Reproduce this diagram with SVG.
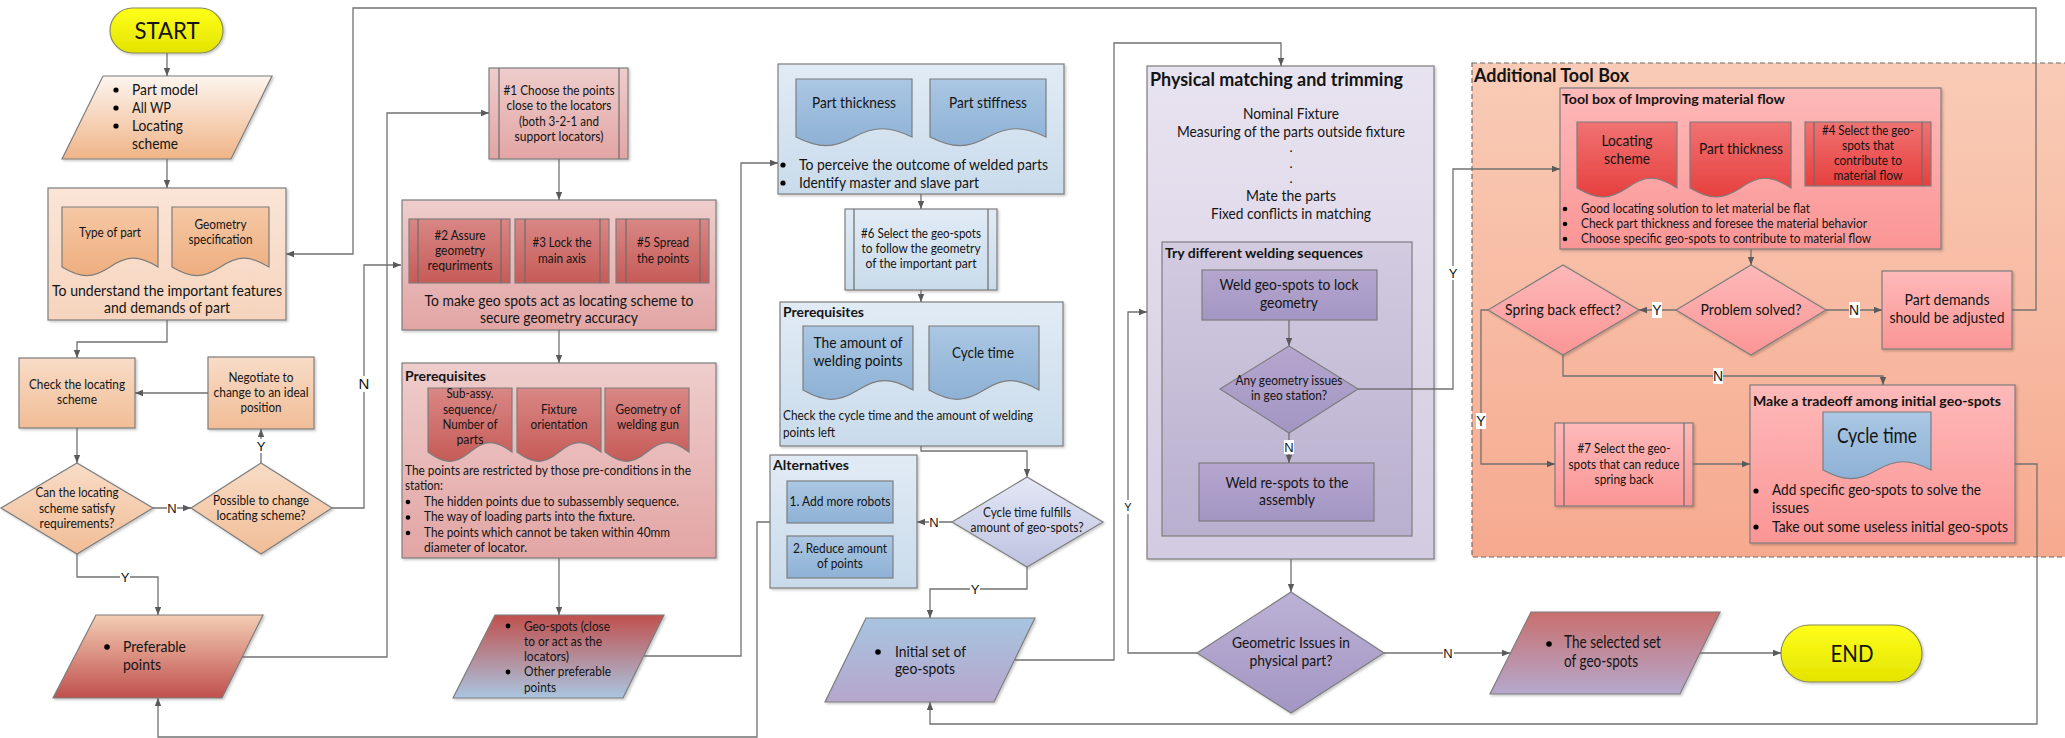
<svg xmlns="http://www.w3.org/2000/svg" width="2065" height="738" viewBox="0 0 2065 738">
<defs>
<style>
text{font-family:Lato,'Liberation Sans',sans-serif;fill:#141414}
.c{text-anchor:middle}
.b{font-weight:bold}
.f12{font-size:12px}.f13{font-size:13px}.f14{font-size:14px}.f15{font-size:15px}.f16{font-size:16px}.f17{font-size:17px}.f19{font-size:19px}.f21{font-size:21px}.f24{font-size:24px}
.sh{stroke:#7d7d7d;stroke-width:1.2}
.bar{stroke:#6d6d6d;stroke-width:1.2;fill:none}
.cn{fill:none;stroke:#717171;stroke-width:1.3}
.ar{marker-end:url(#ah)}
.lb{font-size:13px;text-anchor:middle;font-family:'Liberation Sans',sans-serif}
.lbg{fill:#fff}
</style>
<marker id="ah" viewBox="0 0 10 10" refX="10" refY="5" markerWidth="8" markerHeight="8" markerUnits="userSpaceOnUse" orient="auto"><path d="M0,1L10,5L0,9z" fill="#5a5a5a"/></marker>
<filter id="ds" x="-5%" y="-5%" width="112%" height="115%"><feDropShadow dx="1.5" dy="1.5" stdDeviation="1" flood-color="#000" flood-opacity="0.22"/></filter>
<linearGradient id="gY" x1="0" y1="0" x2="0" y2="1"><stop offset="0" stop-color="#ffff1a"/><stop offset="1" stop-color="#e3e300"/></linearGradient>
<linearGradient id="gP1" x1="0" y1="0" x2="0" y2="1"><stop offset="0" stop-color="#fdf5ef"/><stop offset="1" stop-color="#efb487"/></linearGradient>
<linearGradient id="gPeachBox" x1="0" y1="0" x2="0" y2="1"><stop offset="0" stop-color="#fae5d7"/><stop offset="1" stop-color="#f6d4bd"/></linearGradient>
<linearGradient id="gPeachDoc" x1="0" y1="0" x2="0" y2="1"><stop offset="0" stop-color="#f5c8a5"/><stop offset="1" stop-color="#eeae7f"/></linearGradient>
<linearGradient id="gPeach" x1="0" y1="0" x2="0" y2="1"><stop offset="0" stop-color="#f8dcc7"/><stop offset="1" stop-color="#f1bd96"/></linearGradient>
<linearGradient id="gPref" x1="0" y1="0" x2="0" y2="1"><stop offset="0" stop-color="#f3cdb3"/><stop offset="1" stop-color="#c0504d"/></linearGradient>
<linearGradient id="gPink" x1="0" y1="0" x2="0" y2="1"><stop offset="0" stop-color="#eecdcc"/><stop offset="1" stop-color="#e2a5a4"/></linearGradient>
<linearGradient id="gRedSub" x1="0" y1="0" x2="0" y2="1"><stop offset="0" stop-color="#d98785"/><stop offset="1" stop-color="#c65b57"/></linearGradient>
<linearGradient id="gGeo" x1="0" y1="0" x2="0" y2="1"><stop offset="0" stop-color="#c0504d"/><stop offset="1" stop-color="#a9c5e1"/></linearGradient>
<linearGradient id="gBlueBox" x1="0" y1="0" x2="0" y2="1"><stop offset="0" stop-color="#e1ebf5"/><stop offset="1" stop-color="#c9dbeb"/></linearGradient>
<linearGradient id="gBlueDoc" x1="0" y1="0" x2="0" y2="1"><stop offset="0" stop-color="#abc7e3"/><stop offset="1" stop-color="#8db1d5"/></linearGradient>
<linearGradient id="gLav" x1="0" y1="0" x2="0" y2="1"><stop offset="0" stop-color="#e3e7f5"/><stop offset="1" stop-color="#bfc2e0"/></linearGradient>
<linearGradient id="gInit" x1="0" y1="0" x2="0" y2="1"><stop offset="0" stop-color="#a7c4e0"/><stop offset="1" stop-color="#b6a6cc"/></linearGradient>
<linearGradient id="gPurOut" x1="0" y1="0" x2="0" y2="1"><stop offset="0" stop-color="#e8e3f0"/><stop offset="1" stop-color="#d3cbe1"/></linearGradient>
<linearGradient id="gPurIn" x1="0" y1="0" x2="0" y2="1"><stop offset="0" stop-color="#d3cbe0"/><stop offset="1" stop-color="#b9afcf"/></linearGradient>
<linearGradient id="gPurNode" x1="0" y1="0" x2="0" y2="1"><stop offset="0" stop-color="#b4a6ce"/><stop offset="1" stop-color="#a396c3"/></linearGradient>
<linearGradient id="gPurDia" x1="0" y1="0" x2="0" y2="1"><stop offset="0" stop-color="#bcb1d5"/><stop offset="1" stop-color="#a396c4"/></linearGradient>
<linearGradient id="gSal" x1="0" y1="0" x2="0" y2="1"><stop offset="0" stop-color="#f9cbb6"/><stop offset="1" stop-color="#f6aa8f"/></linearGradient>
<linearGradient id="gTool" x1="0" y1="0" x2="0" y2="1"><stop offset="0" stop-color="#feb9b9"/><stop offset="1" stop-color="#fb9595"/></linearGradient>
<linearGradient id="gRedDoc" x1="0" y1="0" x2="0" y2="1"><stop offset="0" stop-color="#f07272"/><stop offset="1" stop-color="#e6403e"/></linearGradient>
<linearGradient id="gSel" x1="0" y1="0" x2="0" y2="1"><stop offset="0" stop-color="#c96f6d"/><stop offset="1" stop-color="#b5a8cd"/></linearGradient>
</defs>

<rect width="2065" height="738" fill="#fff"/>

<!-- background container: additional tool box -->
<g id="additional-tool-box">
<rect x="1472" y="63" width="600" height="494" fill="url(#gSal)" stroke="#6d6d6d" stroke-width="1.2" stroke-dasharray="5,3"/>
<text x="1474" y="82" class="b f19" textLength="155" lengthAdjust="spacingAndGlyphs">Additional Tool Box</text>
</g>

<g id="start">
<rect x="110" y="8" width="113" height="45" rx="22.5" fill="url(#gY)" stroke="#8a8a5c" stroke-width="1.2" filter="url(#ds)"/>
<text x="167" y="39" class="c f24" textLength="65" lengthAdjust="spacingAndGlyphs">START</text>
</g>

<g id="inputs">
<polygon points="103,76 272,76 231,159 62,159" fill="url(#gP1)" class="sh" filter="url(#ds)"/>
<circle cx="116" cy="90" r="2.6" fill="#000"/><circle cx="116" cy="108" r="2.6" fill="#000"/><circle cx="116" cy="126" r="2.6" fill="#000"/>
<text x="132" y="95" class="f15" textLength="66" lengthAdjust="spacingAndGlyphs">Part model</text>
<text x="132" y="113" class="f15" textLength="39" lengthAdjust="spacingAndGlyphs">All WP</text>
<text x="132" y="131" class="f15" textLength="51" lengthAdjust="spacingAndGlyphs">Locating</text>
<text x="132" y="149" class="f15" textLength="46" lengthAdjust="spacingAndGlyphs">scheme</text>
</g>

<g id="understand-part">
<rect x="48" y="188" width="238" height="132" fill="url(#gPeachBox)" class="sh" filter="url(#ds)"/>
<path d="M62,207H158V267C138.8,255.2 127.3,255.2 110,267C92.7,278.5 81.2,278.5 62,267Z" fill="url(#gPeachDoc)" class="sh"/>
<path d="M172,207H269V267C249.6,255.2 238,255.2 220.5,267C203,278.5 191.4,278.5 172,267Z" fill="url(#gPeachDoc)" class="sh"/>
<text x="110" y="237" class="c f13" textLength="62" lengthAdjust="spacingAndGlyphs">Type of part</text>
<text x="220.5" y="229" class="c f13" textLength="52" lengthAdjust="spacingAndGlyphs">Geometry</text>
<text x="220.5" y="244" class="c f13" textLength="64" lengthAdjust="spacingAndGlyphs">specification</text>
<text x="167" y="296" class="c f16" textLength="230" lengthAdjust="spacingAndGlyphs">To understand the important features</text>
<text x="167" y="313" class="c f16" textLength="126" lengthAdjust="spacingAndGlyphs">and demands of part</text>
</g>

<g id="check-locating">
<rect x="19" y="358" width="116" height="70" fill="url(#gPeach)" class="sh" filter="url(#ds)"/>
<text x="77" y="389" class="c f13" textLength="96" lengthAdjust="spacingAndGlyphs">Check the locating</text>
<text x="77" y="404" class="c f13" textLength="40" lengthAdjust="spacingAndGlyphs">scheme</text>
</g>

<g id="negotiate">
<rect x="208" y="357" width="106" height="72" fill="url(#gPeach)" class="sh" filter="url(#ds)"/>
<text x="261" y="382" class="c f13" textLength="65" lengthAdjust="spacingAndGlyphs">Negotiate to</text>
<text x="261" y="397" class="c f13" textLength="95" lengthAdjust="spacingAndGlyphs">change to an ideal</text>
<text x="261" y="412" class="c f13" textLength="41" lengthAdjust="spacingAndGlyphs">position</text>
</g>

<g id="can-satisfy">
<polygon points="77,463 153,508 77,554 1,508" fill="url(#gPeach)" class="sh" filter="url(#ds)"/>
<text x="77" y="497" class="c f13" textLength="83" lengthAdjust="spacingAndGlyphs">Can the locating</text>
<text x="77" y="513" class="c f13" textLength="76" lengthAdjust="spacingAndGlyphs">scheme satisfy</text>
<text x="77" y="528" class="c f13" textLength="75" lengthAdjust="spacingAndGlyphs">requirements?</text>
</g>

<g id="possible-change">
<polygon points="261,463 332,508 261,554 191,508" fill="url(#gPeach)" class="sh" filter="url(#ds)"/>
<text x="261" y="505" class="c f13" textLength="96" lengthAdjust="spacingAndGlyphs">Possible to change</text>
<text x="261" y="520" class="c f13" textLength="89" lengthAdjust="spacingAndGlyphs">locating scheme?</text>
</g>

<g id="preferable-points">
<polygon points="96,615 263,615 222,698 53,698" fill="url(#gPref)" class="sh" filter="url(#ds)"/>
<circle cx="107" cy="647" r="2.8" fill="#000"/>
<text x="123" y="652" class="f16" textLength="63" lengthAdjust="spacingAndGlyphs">Preferable</text>
<text x="123" y="670" class="f16" textLength="38" lengthAdjust="spacingAndGlyphs">points</text>
</g>

<g id="step1">
<rect x="489" y="68" width="139" height="91" fill="url(#gPink)" class="sh" filter="url(#ds)"/>
<path d="M499,68V159M619,68V159" class="bar"/>
<text x="559" y="95" class="c f13" textLength="111" lengthAdjust="spacingAndGlyphs">#1 Choose the points</text>
<text x="559" y="110" class="c f13" textLength="105" lengthAdjust="spacingAndGlyphs">close to the locators</text>
<text x="559" y="126" class="c f13" textLength="80" lengthAdjust="spacingAndGlyphs">(both 3-2-1 and</text>
<text x="559" y="141" class="c f13" textLength="89" lengthAdjust="spacingAndGlyphs">support locators)</text>
</g>

<g id="locating-role">
<rect x="402" y="200" width="314" height="130" fill="url(#gPink)" class="sh" filter="url(#ds)"/>
<rect x="409" y="219" width="101" height="64" fill="url(#gRedSub)" class="sh"/>
<path d="M418,219V283M501,219V283" class="bar"/>
<rect x="515" y="219" width="94" height="64" fill="url(#gRedSub)" class="sh"/>
<path d="M525,219V283M600,219V283" class="bar"/>
<rect x="616" y="219" width="93" height="64" fill="url(#gRedSub)" class="sh"/>
<path d="M626,219V283M700,219V283" class="bar"/>
<text x="460" y="240" class="c f13" textLength="51" lengthAdjust="spacingAndGlyphs">#2 Assure</text>
<text x="460" y="255" class="c f13" textLength="50" lengthAdjust="spacingAndGlyphs">geometry</text>
<text x="460" y="270" class="c f13" textLength="65" lengthAdjust="spacingAndGlyphs">requriments</text>
<text x="562" y="247" class="c f13" textLength="59" lengthAdjust="spacingAndGlyphs">#3 Lock the</text>
<text x="562" y="263" class="c f13" textLength="48" lengthAdjust="spacingAndGlyphs">main axis</text>
<text x="663" y="247" class="c f13" textLength="52" lengthAdjust="spacingAndGlyphs">#5 Spread</text>
<text x="663" y="263" class="c f13" textLength="52" lengthAdjust="spacingAndGlyphs">the points</text>
<text x="559" y="306" class="c f16" textLength="269" lengthAdjust="spacingAndGlyphs">To make geo spots act as locating scheme to</text>
<text x="559" y="323" class="c f16" textLength="158" lengthAdjust="spacingAndGlyphs">secure geometry accuracy</text>
</g>

<g id="prerequisites-station">
<rect x="402" y="363" width="314" height="195" fill="url(#gPink)" class="sh" filter="url(#ds)"/>
<text x="405" y="381" class="b f14" textLength="81" lengthAdjust="spacingAndGlyphs">Prerequisites</text>
<path d="M428,388H512V452C495.2,439.5 485.1,439.5 470,452C454.9,464.4 444.8,464.4 428,452Z" fill="url(#gRedSub)" class="sh"/>
<path d="M517,388H601V452C584.2,439.5 574.1,439.5 559,452C543.9,464.4 533.8,464.4 517,452Z" fill="url(#gRedSub)" class="sh"/>
<path d="M605,388H689V452C672.2,439.5 662.1,439.5 647,452C631.9,464.4 621.8,464.4 605,452Z" fill="url(#gRedSub)" class="sh"/>
<text x="470" y="398" class="c f13" textLength="47" lengthAdjust="spacingAndGlyphs">Sub-assy.</text>
<text x="470" y="414" class="c f13" textLength="54" lengthAdjust="spacingAndGlyphs">sequence/</text>
<text x="470" y="429" class="c f13" textLength="55" lengthAdjust="spacingAndGlyphs">Number of</text>
<text x="470" y="444" class="c f13" textLength="27" lengthAdjust="spacingAndGlyphs">parts</text>
<text x="559" y="414" class="c f13" textLength="36" lengthAdjust="spacingAndGlyphs">Fixture</text>
<text x="559" y="429" class="c f13" textLength="57" lengthAdjust="spacingAndGlyphs">orientation</text>
<text x="648" y="414" class="c f13" textLength="65" lengthAdjust="spacingAndGlyphs">Geometry of</text>
<text x="648" y="429" class="c f13" textLength="62" lengthAdjust="spacingAndGlyphs">welding gun</text>
<text x="405" y="475" class="f13" textLength="286" lengthAdjust="spacingAndGlyphs">The points are restricted by those pre-conditions in the</text>
<text x="405" y="490" class="f13" textLength="38" lengthAdjust="spacingAndGlyphs">station:</text>
<circle cx="408" cy="502" r="2.3" fill="#000"/><circle cx="408" cy="517.5" r="2.3" fill="#000"/><circle cx="408" cy="533" r="2.3" fill="#000"/>
<text x="424" y="506" class="f13" textLength="255" lengthAdjust="spacingAndGlyphs">The hidden points due to subassembly sequence.</text>
<text x="424" y="521" class="f13" textLength="211" lengthAdjust="spacingAndGlyphs">The way of loading parts into the fixture.</text>
<text x="424" y="537" class="f13" textLength="246" lengthAdjust="spacingAndGlyphs">The points which cannot be taken within 40mm</text>
<text x="424" y="552" class="f13" textLength="103" lengthAdjust="spacingAndGlyphs">diameter of locator.</text>
</g>

<g id="geo-spots-out">
<polygon points="495,615 664,615 623,698 453,698" fill="url(#gGeo)" class="sh" filter="url(#ds)"/>
<circle cx="508" cy="626" r="2.4" fill="#000"/><circle cx="508" cy="672" r="2.4" fill="#000"/>
<text x="524" y="631" class="f14" textLength="86" lengthAdjust="spacingAndGlyphs">Geo-spots (close</text>
<text x="524" y="646" class="f14" textLength="78" lengthAdjust="spacingAndGlyphs">to or act as the</text>
<text x="524" y="661" class="f14" textLength="45" lengthAdjust="spacingAndGlyphs">locators)</text>
<text x="524" y="676" class="f14" textLength="87" lengthAdjust="spacingAndGlyphs">Other preferable</text>
<text x="524" y="692" class="f14" textLength="32" lengthAdjust="spacingAndGlyphs">points</text>
</g>

<g id="welded-outcome">
<rect x="778" y="64" width="286" height="130" fill="url(#gBlueBox)" class="sh" filter="url(#ds)"/>
<path d="M796,79H912V137C888.8,126 874.9,126 854,137C833.1,148.6 819.2,148.6 796,137Z" fill="url(#gBlueDoc)" class="sh"/>
<path d="M930,79H1046V137C1022.8,126 1008.9,126 988,137C967.1,148.6 953.2,148.6 930,137Z" fill="url(#gBlueDoc)" class="sh"/>
<text x="854" y="108" class="c f16" textLength="84" lengthAdjust="spacingAndGlyphs">Part thickness</text>
<text x="988" y="108" class="c f16" textLength="78" lengthAdjust="spacingAndGlyphs">Part stiffness</text>
<circle cx="783" cy="165" r="2.6" fill="#000"/><circle cx="783" cy="183" r="2.6" fill="#000"/>
<text x="799" y="170" class="f16" textLength="249" lengthAdjust="spacingAndGlyphs">To perceive the outcome of welded parts</text>
<text x="799" y="188" class="f16" textLength="180" lengthAdjust="spacingAndGlyphs">Identify master and slave part</text>
</g>

<g id="step6">
<rect x="845" y="209" width="152" height="81" fill="url(#gBlueBox)" class="sh" filter="url(#ds)"/>
<path d="M854,209V290M988,209V290" class="bar"/>
<text x="921" y="238" class="c f13" textLength="120" lengthAdjust="spacingAndGlyphs">#6 Select the geo-spots</text>
<text x="921" y="253" class="c f13" textLength="119" lengthAdjust="spacingAndGlyphs">to follow the geometry</text>
<text x="921" y="268" class="c f13" textLength="111" lengthAdjust="spacingAndGlyphs">of the important part</text>
</g>

<g id="prerequisites-cycle">
<rect x="780" y="302" width="283" height="144" fill="url(#gBlueBox)" class="sh" filter="url(#ds)"/>
<text x="783" y="317" class="b f14" textLength="81" lengthAdjust="spacingAndGlyphs">Prerequisites</text>
<path d="M803,326H913V390C891,377.5 877.8,377.5 858,390C838.2,402.4 825,402.4 803,390Z" fill="url(#gBlueDoc)" class="sh"/>
<path d="M929,326H1039V390C1017,377.5 1003.8,377.5 984,390C964.2,402.4 951,402.4 929,390Z" fill="url(#gBlueDoc)" class="sh"/>
<text x="858" y="348" class="c f16" textLength="89" lengthAdjust="spacingAndGlyphs">The amount of</text>
<text x="858" y="366" class="c f16" textLength="89" lengthAdjust="spacingAndGlyphs">welding points</text>
<text x="983" y="358" class="c f16" textLength="62" lengthAdjust="spacingAndGlyphs">Cycle time</text>
<text x="783" y="420" class="f13" textLength="250" lengthAdjust="spacingAndGlyphs">Check the cycle time and the amount of welding</text>
<text x="783" y="437" class="f13" textLength="52" lengthAdjust="spacingAndGlyphs">points left</text>
</g>

<g id="alternatives">
<rect x="770" y="455" width="147" height="133" fill="url(#gBlueBox)" class="sh" filter="url(#ds)"/>
<text x="773" y="470" class="b f14" textLength="76" lengthAdjust="spacingAndGlyphs">Alternatives</text>
<rect x="787" y="481" width="106" height="42" fill="url(#gBlueDoc)" class="sh"/>
<rect x="787" y="536" width="106" height="42" fill="url(#gBlueDoc)" class="sh"/>
<text x="840" y="506" class="c f13" textLength="101" lengthAdjust="spacingAndGlyphs">1. Add more robots</text>
<text x="840" y="553" class="c f13" textLength="94" lengthAdjust="spacingAndGlyphs">2. Reduce amount</text>
<text x="840" y="568" class="c f13" textLength="46" lengthAdjust="spacingAndGlyphs">of points</text>
</g>

<g id="cycle-check">
<polygon points="1027,477 1103,522 1027,567 952,522" fill="url(#gLav)" class="sh" filter="url(#ds)"/>
<text x="1027" y="517" class="c f13" textLength="88" lengthAdjust="spacingAndGlyphs">Cycle time fulfills</text>
<text x="1027" y="532" class="c f13" textLength="113" lengthAdjust="spacingAndGlyphs">amount of geo-spots?</text>
</g>

<g id="initial-set">
<polygon points="866,618 1035,618 994,702 825,702" fill="url(#gInit)" class="sh" filter="url(#ds)"/>
<circle cx="878" cy="652" r="2.8" fill="#000"/>
<text x="895" y="657" class="f16" textLength="71" lengthAdjust="spacingAndGlyphs">Initial set of</text>
<text x="895" y="674" class="f16" textLength="60" lengthAdjust="spacingAndGlyphs">geo-spots</text>
</g>

<g id="physical-matching">
<rect x="1147" y="66" width="287" height="493" fill="url(#gPurOut)" class="sh" filter="url(#ds)"/>
<text x="1150" y="86" class="b f19" textLength="253" lengthAdjust="spacingAndGlyphs">Physical matching and trimming</text>
<text x="1291" y="119" class="c f16" textLength="96" lengthAdjust="spacingAndGlyphs">Nominal Fixture</text>
<text x="1291" y="137" class="c f16" textLength="228" lengthAdjust="spacingAndGlyphs">Measuring of the parts outside fixture</text>
<text x="1291" y="152" class="c f13">.</text>
<text x="1291" y="168" class="c f13">.</text>
<text x="1291" y="183" class="c f13">.</text>
<text x="1291" y="201" class="c f16" textLength="90" lengthAdjust="spacingAndGlyphs">Mate the parts</text>
<text x="1291" y="219" class="c f16" textLength="160" lengthAdjust="spacingAndGlyphs">Fixed conflicts in matching</text>
</g>

<g id="welding-sequences">
<rect x="1162" y="242" width="250" height="294" fill="url(#gPurIn)" class="sh"/>
<text x="1165" y="258" class="b f14" textLength="198" lengthAdjust="spacingAndGlyphs">Try different welding sequences</text>
</g>

<g id="weld-geo-spots">
<rect x="1202" y="270" width="175" height="50" fill="url(#gPurNode)" class="sh"/>
<text x="1289" y="290" class="c f16" textLength="139" lengthAdjust="spacingAndGlyphs">Weld geo-spots to lock</text>
<text x="1289" y="308" class="c f16" textLength="58" lengthAdjust="spacingAndGlyphs">geometry</text>
</g>

<g id="geo-station-issues">
<polygon points="1289,346 1358,389 1289,433 1220,389" fill="url(#gPurNode)" class="sh"/>
<text x="1289" y="385" class="c f13" textLength="107" lengthAdjust="spacingAndGlyphs">Any geometry issues</text>
<text x="1289" y="400" class="c f13" textLength="76" lengthAdjust="spacingAndGlyphs">in geo station?</text>
</g>

<g id="weld-re-spots">
<rect x="1199" y="463" width="175" height="58" fill="url(#gPurNode)" class="sh"/>
<text x="1287" y="488" class="c f16" textLength="123" lengthAdjust="spacingAndGlyphs">Weld re-spots to the</text>
<text x="1287" y="505" class="c f16" textLength="56" lengthAdjust="spacingAndGlyphs">assembly</text>
</g>

<g id="physical-issues">
<polygon points="1291,592 1384,653 1291,713 1197,653" fill="url(#gPurDia)" class="sh" filter="url(#ds)"/>
<text x="1291" y="648" class="c f16" textLength="118" lengthAdjust="spacingAndGlyphs">Geometric Issues in</text>
<text x="1291" y="666" class="c f16" textLength="83" lengthAdjust="spacingAndGlyphs">physical part?</text>
</g>

<g id="material-flow">
<rect x="1560" y="88" width="381" height="161" fill="url(#gTool)" class="sh" filter="url(#ds)"/>
<text x="1562" y="104" class="b f14" textLength="223" lengthAdjust="spacingAndGlyphs">Tool box of Improving material flow</text>
<path d="M1577,122H1677V188C1657,175 1645,175 1627,188C1609,200 1597,200 1577,188Z" fill="url(#gRedDoc)" class="sh"/>
<path d="M1690,122H1791V188C1770.8,175 1758.7,175 1740.5,188C1722.3,200 1710.2,200 1690,188Z" fill="url(#gRedDoc)" class="sh"/>
<rect x="1805" y="122" width="126" height="64" fill="url(#gRedDoc)" class="sh"/>
<path d="M1814,122V186M1922,122V186" class="bar"/>
<text x="1627" y="146" class="c f16" textLength="51" lengthAdjust="spacingAndGlyphs">Locating</text>
<text x="1627" y="164" class="c f16" textLength="46" lengthAdjust="spacingAndGlyphs">scheme</text>
<text x="1741" y="154" class="c f16" textLength="84" lengthAdjust="spacingAndGlyphs">Part thickness</text>
<text x="1868" y="135" class="c f13" textLength="92" lengthAdjust="spacingAndGlyphs">#4 Select the geo-</text>
<text x="1868" y="150" class="c f13" textLength="52" lengthAdjust="spacingAndGlyphs">spots that</text>
<text x="1868" y="165" class="c f13" textLength="68" lengthAdjust="spacingAndGlyphs">contribute to</text>
<text x="1868" y="180" class="c f13" textLength="69" lengthAdjust="spacingAndGlyphs">material flow</text>
<circle cx="1565" cy="209" r="2.3" fill="#000"/><circle cx="1565" cy="224" r="2.3" fill="#000"/><circle cx="1565" cy="239" r="2.3" fill="#000"/>
<text x="1581" y="213" class="f13" textLength="229" lengthAdjust="spacingAndGlyphs">Good locating solution to let material be flat</text>
<text x="1581" y="228" class="f13" textLength="286" lengthAdjust="spacingAndGlyphs">Check part thickness and foresee the material behavior</text>
<text x="1581" y="243" class="f13" textLength="290" lengthAdjust="spacingAndGlyphs">Choose specific geo-spots to contribute to material flow</text>
</g>

<g id="problem-solved">
<polygon points="1751,265 1826,310 1751,355 1676,310" fill="url(#gTool)" class="sh" filter="url(#ds)"/>
<text x="1751" y="315" class="c f16" textLength="101" lengthAdjust="spacingAndGlyphs">Problem solved?</text>
</g>

<g id="part-demands">
<rect x="1882" y="271" width="130" height="78" fill="url(#gTool)" class="sh" filter="url(#ds)"/>
<text x="1947" y="305" class="c f16" textLength="85" lengthAdjust="spacingAndGlyphs">Part demands</text>
<text x="1947" y="323" class="c f16" textLength="115" lengthAdjust="spacingAndGlyphs">should be adjusted</text>
</g>

<g id="spring-back">
<polygon points="1563,265 1639,310 1563,355 1488,310" fill="url(#gTool)" class="sh" filter="url(#ds)"/>
<text x="1563" y="315" class="c f16" textLength="116" lengthAdjust="spacingAndGlyphs">Spring back effect?</text>
</g>

<g id="step7">
<rect x="1555" y="423" width="138" height="83" fill="url(#gTool)" class="sh" filter="url(#ds)"/>
<path d="M1564,423V506M1684,423V506" class="bar"/>
<text x="1624" y="453" class="c f13" textLength="93" lengthAdjust="spacingAndGlyphs">#7 Select the geo-</text>
<text x="1624" y="469" class="c f13" textLength="111" lengthAdjust="spacingAndGlyphs">spots that can reduce</text>
<text x="1624" y="484" class="c f13" textLength="59" lengthAdjust="spacingAndGlyphs">spring back</text>
</g>

<g id="tradeoff">
<rect x="1750" y="385" width="265" height="158" fill="url(#gTool)" class="sh" filter="url(#ds)"/>
<text x="1753" y="406" class="b f14" textLength="248" lengthAdjust="spacingAndGlyphs">Make a tradeoff among initial geo-spots</text>
<path d="M1823,412H1931V470C1909.4,459 1896.4,459 1877,470C1857.6,481.6 1844.6,481.6 1823,470Z" fill="url(#gBlueDoc)" class="sh"/>
<text x="1877" y="443" class="c f21" textLength="80" lengthAdjust="spacingAndGlyphs">Cycle time</text>
<circle cx="1756" cy="491" r="2.6" fill="#000"/><circle cx="1756" cy="527" r="2.6" fill="#000"/>
<text x="1772" y="495" class="f16" textLength="209" lengthAdjust="spacingAndGlyphs">Add specific geo-spots to solve the</text>
<text x="1772" y="513" class="f16" textLength="37" lengthAdjust="spacingAndGlyphs">issues</text>
<text x="1772" y="532" class="f16" textLength="236" lengthAdjust="spacingAndGlyphs">Take out some useless initial geo-spots</text>
</g>

<g id="selected-set">
<polygon points="1531,612 1720,612 1680,694 1490,694" fill="url(#gSel)" class="sh" filter="url(#ds)"/>
<circle cx="1549" cy="644" r="2.8" fill="#000"/>
<text x="1564" y="648" class="f17" textLength="97" lengthAdjust="spacingAndGlyphs">The selected set</text>
<text x="1564" y="667" class="f17" textLength="74" lengthAdjust="spacingAndGlyphs">of geo-spots</text>
</g>

<g id="end">
<rect x="1781" y="625" width="141" height="57" rx="28.5" fill="url(#gY)" stroke="#8a8a5c" stroke-width="1.2" filter="url(#ds)"/>
<text x="1852" y="662" class="c f24" textLength="43" lengthAdjust="spacingAndGlyphs">END</text>
</g>

<g id="connectors">
<path class="cn ar" d="M167,53V76"/>
<path class="cn ar" d="M167,159V188"/>
<path class="cn ar" d="M167,320V342H77V358"/>
<path class="cn ar" d="M208,393H135"/>
<path class="cn ar" d="M77,428V463"/>
<path class="cn ar" d="M153,508H191"/>
<path class="cn ar" d="M261,463V429"/>
<path class="cn ar" d="M332,508H364V265H401"/>
<path class="cn ar" d="M77,554V577H158V615"/>
<path class="cn ar" d="M242,657H387V113H489"/>
<path class="cn ar" d="M559,159V200"/>
<path class="cn ar" d="M559,330V363"/>
<path class="cn ar" d="M559,558V615"/>
<path class="cn ar" d="M644,656H741V163H778"/>
<path class="cn ar" d="M921,194V209"/>
<path class="cn ar" d="M921,290V302"/>
<path class="cn ar" d="M921,446V451H1027V477"/>
<path class="cn ar" d="M952,522H917"/>
<path class="cn ar" d="M770,522H757V737H158V698"/>
<path class="cn ar" d="M1027,567V589H930V618"/>
<path class="cn ar" d="M1015,660H1114V43H1281V66"/>
<path class="cn ar" d="M1289,320V346"/>
<path class="cn ar" d="M1358,389H1453V169H1560"/>
<path class="cn ar" d="M1289,433V463"/>
<path class="cn ar" d="M1291,559V592"/>
<path class="cn ar" d="M1197,653H1128V312H1147"/>
<path class="cn ar" d="M1384,653H1510"/>
<path class="cn ar" d="M1700,653H1781"/>
<path class="cn ar" d="M1751,249V265"/>
<path class="cn ar" d="M1826,310H1882"/>
<path class="cn ar" d="M2012,310H2036V8H353V254H286"/>
<path class="cn ar" d="M1676,310H1639"/>
<path class="cn ar" d="M1563,355V376H1883V385"/>
<path class="cn ar" d="M1488,310H1481V464H1555"/>
<path class="cn ar" d="M1693,464H1750"/>
<path class="cn ar" d="M2015,464H2037V724H930V702"/>
<!-- branch labels -->
<rect class="lbg" x="167" y="501" width="10" height="14"/><text class="lb" x="172" y="513">N</text>
<rect class="lbg" x="256" y="439" width="10" height="14"/><text class="lb" x="261" y="451">Y</text>
<rect class="lbg" x="358" y="376" width="12" height="16"/><text class="lb" x="364" y="389" style="font-size:15px">N</text>
<rect class="lbg" x="120" y="570" width="10" height="14"/><text class="lb" x="125" y="582">Y</text>
<rect class="lbg" x="929" y="515" width="10" height="14"/><text class="lb" x="934" y="527">N</text>
<rect class="lbg" x="970" y="582" width="10" height="14"/><text class="lb" x="975" y="594">Y</text>
<rect class="lbg" x="1124" y="500" width="8" height="14"/><text class="lb" x="1128" y="511" style="font-size:11px">Y</text>
<rect class="lbg" x="1448" y="266" width="10" height="14"/><text class="lb" x="1453" y="278">Y</text>
<rect class="lbg" x="1284" y="440" width="10" height="14"/><text class="lb" x="1289" y="452">N</text>
<rect class="lbg" x="1443" y="646" width="11" height="14"/><text class="lb" x="1448" y="658">N</text>
<rect class="lbg" x="1849" y="302" width="11" height="16"/><text class="lb" x="1854" y="315" style="font-size:14px">N</text>
<rect class="lbg" x="1652" y="302" width="10" height="16"/><text class="lb" x="1657" y="315" style="font-size:14px">Y</text>
<rect class="lbg" x="1713" y="368" width="10" height="16"/><text class="lb" x="1718" y="381" style="font-size:14px">N</text>
<rect class="lbg" x="1476" y="413" width="10" height="16"/><text class="lb" x="1481" y="426" style="font-size:14px">Y</text>
</g>
</svg>
